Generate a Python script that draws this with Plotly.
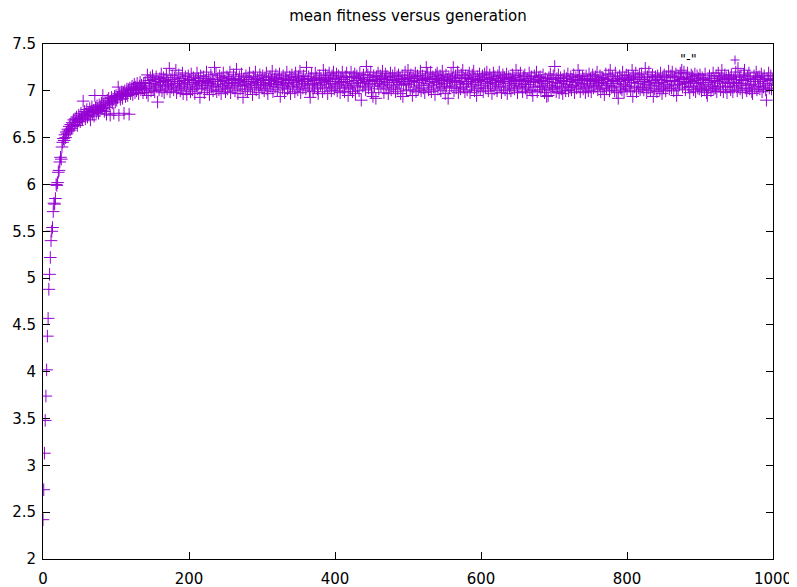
import plotly.graph_objects as go

title_text = "mean fitness versus generation"
key_label = '"-"'
x_ticks = [0, 200, 400, 600, 800, 1000]
y_ticks = [2, 2.5, 3, 3.5, 4, 4.5, 5, 5.5, 6, 6.5, 7, 7.5]
y_tick_text = ["2", "2.5", "3", "3.5", "4", "4.5", "5", "5.5", "6", "6.5", "7", "7.5"]

fitness = [
    2.42, 2.74, 3.13, 3.48, 3.74, 4.02, 4.38, 4.57, 4.88, 5.04, 5.22, 5.40, 5.50, 5.54, 5.71, 5.80, 5.79, 5.85, 6.00, 5.99,
    6.02, 6.13, 6.15, 6.24, 6.29, 6.27, 6.40, 6.45, 6.49, 6.47, 6.53, 6.50, 6.56, 6.54, 6.59, 6.57, 6.62, 6.58, 6.64, 6.60,
    6.66, 6.62, 6.69, 6.64, 6.70, 6.66, 6.72, 6.63, 6.68, 6.74, 6.70, 6.67, 6.76, 6.71, 6.69, 6.89, 6.73, 6.78, 6.70, 6.75,
    6.80, 6.72, 6.77, 6.74, 6.81, 6.69, 6.78, 6.83, 6.75, 6.79, 6.73, 6.95, 6.82, 6.77, 6.84, 6.80, 6.76, 6.85, 6.79, 6.83,
    6.87, 6.81, 6.95, 6.84, 6.78, 6.88, 6.82, 6.75, 6.90, 6.85, 6.92, 6.86, 6.74, 6.89, 6.93, 6.87, 6.91, 6.76, 6.94, 6.88,
    6.95, 6.90, 6.93, 7.04, 6.74, 6.97, 6.91, 6.96, 6.99, 6.92, 6.98, 6.76, 7.00, 6.94, 6.97, 7.02, 6.95, 7.01, 6.75, 7.03,
    6.97, 7.01, 7.05, 6.96, 7.03, 7.07, 6.98, 7.04, 7.00, 7.08, 7.02, 6.97, 7.05, 7.09, 7.01, 7.06, 7.03, 6.98, 7.08, 7.02,
    7.09, 7.03, 6.98, 7.17, 6.95, 7.11, 7.05, 7.14, 7.00, 7.08, 7.16, 7.02, 7.12, 6.99, 7.07, 7.15, 7.04, 6.88, 7.10, 7.01,
    7.13, 7.06, 7.18, 7.00, 7.09, 7.14, 6.98, 7.11, 7.05, 7.17, 7.02, 7.10, 7.07, 7.24, 6.99, 7.12, 7.04, 7.16, 7.08, 7.01,
    7.14, 7.06, 7.22, 6.98, 7.10, 7.03, 7.17, 7.08, 7.00, 7.13, 7.05, 7.19, 6.97, 7.11, 7.07, 7.15, 7.02, 6.96, 7.09, 7.16,
    7.04, 7.12, 6.99, 7.18, 7.07, 7.01, 7.14, 7.09, 6.97, 7.11, 7.05, 7.19, 7.02, 7.13, 7.08, 6.93, 7.16, 7.03, 7.10, 7.06,
    7.15, 6.98, 7.11, 7.06, 7.20, 7.02, 7.09, 7.13, 6.96, 7.08, 7.17, 7.04, 7.12, 7.00, 7.10, 7.25, 7.05, 7.18, 6.99, 7.12,
    7.07, 7.01, 7.16, 7.10, 6.97, 7.14, 7.05, 7.19, 7.03, 7.11, 6.99, 7.08, 7.15, 7.02, 7.13, 7.06, 7.20, 6.98, 7.09, 7.12,
    7.04, 7.17, 7.08, 7.00, 7.13, 7.23, 7.06, 6.97, 7.11, 7.15, 7.02, 7.09, 7.18, 7.05, 6.93, 7.12, 7.07, 7.01, 7.16, 7.10,
    6.99, 7.14, 7.06, 7.19, 7.03, 7.10, 7.08, 6.96, 7.15, 7.12, 7.04, 7.20, 7.01, 7.09, 7.13, 7.06, 6.98, 7.17, 7.07, 7.11,
    7.03, 7.16, 7.09, 7.00, 7.14, 7.06, 7.19, 7.02, 6.97, 7.12, 7.08, 7.15, 7.05, 7.11, 7.21, 6.99, 7.07, 7.13, 7.04, 7.17,
    7.10, 7.01, 7.14, 7.07, 7.18, 6.94, 7.09, 7.12, 7.03, 7.16, 7.06, 6.98, 7.13, 7.08, 7.20, 7.02, 7.11, 7.05, 7.15, 6.97,
    7.12, 7.17, 7.04, 7.09, 7.14, 6.99, 7.19, 7.07, 7.11, 7.01, 7.15, 7.05, 7.21, 6.98, 7.10, 7.13, 7.03, 7.16, 7.08, 7.12,
    7.02, 7.25, 7.10, 7.06, 7.15, 7.00, 6.93, 7.13, 7.18, 7.07, 6.99, 7.11, 7.04, 7.19, 7.08, 7.14, 7.02, 6.97, 7.12, 7.16,
    7.06, 7.13, 7.09, 6.99, 7.22, 7.11, 7.03, 7.17, 7.07, 7.14, 6.97, 7.10, 7.19, 7.04, 7.12, 7.00, 7.16, 7.08, 7.20, 7.02,
    7.13, 7.05, 7.18, 7.00, 7.10, 7.16, 7.07, 6.98, 7.14, 7.09, 7.20, 7.03, 7.12, 6.99, 7.15, 7.06, 7.19, 7.10, 6.95, 7.04,
    7.14, 7.02, 7.20, 7.08, 6.99, 7.15, 7.06, 7.18, 6.97, 7.11, 7.16, 7.04, 7.13, 7.00, 7.19, 7.09, 6.90, 7.14, 7.05, 7.17,
    7.08, 7.12, 7.01, 7.26, 7.10, 7.17, 7.03, 7.14, 7.07, 7.20, 6.98, 7.11, 6.94, 7.16, 7.05, 7.12, 6.92, 7.15, 7.08, 7.19,
    7.02, 7.10, 7.16, 7.05, 7.13, 7.21, 7.07, 6.98, 7.12, 7.18, 7.03, 7.15, 7.09, 6.97, 7.14, 7.06, 7.19, 7.01, 7.11, 7.16,
    7.04, 7.12, 7.19, 6.99, 7.09, 7.15, 7.02, 7.17, 7.07, 7.13, 6.97, 7.10, 7.16, 6.94, 7.06, 7.12, 7.20, 7.08, 7.00, 7.14,
    7.22, 7.07, 7.13, 7.01, 7.17, 7.10, 6.95, 7.15, 7.04, 7.11, 7.19, 6.99, 7.09, 7.16, 7.02, 7.13, 7.06, 7.21, 7.00, 7.11,
    7.16, 7.03, 7.12, 6.98, 7.14, 7.25, 7.08, 7.18, 7.01, 7.13, 7.06, 7.20, 6.99, 7.10, 7.15, 7.04, 7.12, 6.96, 7.17, 7.09,
    7.19, 7.02, 7.13, 7.07, 7.16, 7.00, 7.11, 7.21, 7.04, 7.14, 7.08, 6.97, 7.17, 7.05, 7.12, 6.92, 7.15, 7.03, 7.10, 7.18,
    7.05, 7.13, 7.25, 7.00, 7.11, 7.16, 7.03, 7.09, 7.20, 6.98, 7.14, 7.07, 7.02, 7.17, 7.10, 7.22, 7.04, 7.13, 6.99, 7.16,
    7.08, 7.01, 7.14, 7.10, 7.19, 6.98, 7.12, 7.05, 7.17, 7.07, 7.21, 7.00, 7.13, 7.09, 6.95, 7.15, 7.03, 7.11, 7.18, 7.02,
    7.12, 7.06, 7.16, 6.99, 7.10, 7.18, 7.03, 7.14, 7.20, 7.08, 7.00, 7.12, 7.17, 7.05, 7.13, 6.97, 7.09, 7.19, 7.02, 7.15,
    7.07, 7.11, 7.00, 7.16, 7.09, 7.20, 7.04, 7.13, 6.98, 7.10, 7.17, 7.05, 7.14, 7.01, 7.12, 7.18, 6.97, 7.08, 7.15, 7.03,
    7.13, 7.00, 7.10, 7.17, 7.06, 7.14, 7.02, 7.11, 7.22, 7.08, 6.98, 7.16, 7.04, 7.12, 7.19, 7.05, 7.10, 6.99, 7.15, 7.07,
    7.17, 7.03, 7.11, 6.98, 7.13, 7.07, 7.19, 7.01, 7.10, 7.15, 7.00, 6.95, 7.09, 7.16, 7.04, 7.12, 7.20, 6.99, 7.10, 7.14,
    7.05, 7.15, 7.01, 7.11, 7.04, 7.17, 7.08, 6.98, 7.13, 7.02, 6.94, 7.10, 6.95, 7.14, 7.06, 7.18, 7.01, 7.12, 7.04, 7.16,
    7.03, 7.26, 7.09, 6.99, 7.13, 7.05, 7.17, 6.98, 7.08, 7.14, 7.02, 7.11, 6.97, 7.10, 7.16, 7.04, 7.00, 7.13, 7.07, 7.18,
    7.00, 7.10, 7.04, 7.15, 7.01, 7.12, 7.06, 7.17, 6.98, 7.09, 7.14, 7.03, 7.11, 7.22, 7.05, 7.16, 6.99, 7.12, 7.07, 7.15,
    7.02, 7.13, 7.08, 6.98, 7.16, 7.04, 7.11, 7.00, 7.18, 7.06, 7.13, 6.99, 7.10, 7.17, 7.03, 7.12, 7.05, 7.15, 7.08, 7.20,
    7.01, 7.11, 7.06, 7.16, 6.99, 7.09, 7.14, 7.03, 7.13, 6.96, 7.08, 7.18, 7.02, 7.12, 7.06, 7.17, 7.00, 7.22, 7.10, 7.04,
    7.15, 7.05, 7.11, 7.00, 7.19, 7.08, 6.98, 7.13, 6.92, 7.10, 7.16, 7.03, 7.12, 7.01, 7.20, 7.07, 6.99, 7.14, 7.05, 7.17,
    7.02, 7.11, 7.16, 7.05, 7.13, 7.00, 7.09, 7.22, 6.94, 7.15, 7.04, 7.12, 7.19, 6.99, 7.08, 7.14, 7.03, 7.17, 7.01, 7.10,
    7.18, 7.04, 7.12, 7.01, 7.10, 7.24, 7.07, 6.98, 7.15, 7.03, 7.20, 7.09, 7.00, 7.14, 7.06, 7.17, 6.94, 7.11, 7.02, 7.15,
    7.08, 6.99, 7.16, 7.05, 7.12, 7.01, 7.19, 7.09, 6.97, 7.14, 7.03, 7.17, 7.07, 7.00, 7.15, 7.05, 7.11, 7.21, 7.02, 7.10,
    7.16, 7.03, 7.20, 7.11, 7.00, 7.14, 7.06, 7.18, 6.95, 7.10, 7.02, 7.15, 7.07, 7.19, 7.12, 7.22, 7.04, 7.13, 7.20, 7.08,
    7.01, 7.14, 7.09, 7.19, 7.04, 7.12, 6.98, 7.10, 7.17, 7.05, 7.15, 7.01, 7.11, 7.18, 6.99, 7.08, 7.16, 7.03, 7.13, 7.02,
    7.17, 7.09, 7.00, 7.14, 7.05, 7.12, 7.01, 7.18, 7.07, 6.98, 6.95, 7.11, 7.03, 7.16, 7.09, 7.00, 7.13, 7.05, 7.19, 7.02,
    7.11, 7.03, 7.16, 6.99, 7.10, 7.19, 7.05, 7.13, 7.01, 7.15, 7.22, 7.08, 6.99, 7.12, 7.17, 7.04, 7.14, 6.98, 7.09, 7.16,
    7.05, 7.13, 7.01, 7.17, 7.08, 6.99, 7.12, 7.04, 7.15, 7.20, 7.09, 7.00, 7.24, 7.06, 7.14, 7.02, 7.16, 7.08, 6.98, 7.11,
    7.17, 7.22, 7.03, 7.12, 7.00, 7.15, 7.06, 7.19, 7.02, 7.13, 7.07, 6.99, 6.97, 7.10, 7.16, 7.04, 7.12, 7.20, 7.01, 7.14,
    7.05, 7.15, 7.02, 7.10, 7.18, 6.99, 7.12, 7.04, 7.16, 7.08, 7.01, 6.90, 7.13, 7.06, 7.19, 7.03, 7.11, 7.16, 7.02, 7.12,
]
generation = list(range(len(fitness)))

color = "#9400D3"
font_family = "DejaVu Sans"

# page body has an 8px default margin; size the figure so the plot lands where the reference has it
BODY = 8
W, H = 797 - BODY, 587 - BODY
PL, PR, PT, PB = 43, 773, 44, 559          # target plot box in page pixels
L, T = PL - BODY, PT - BODY
R, B = (BODY + W) - PR, (BODY + H) - PB
pw, ph = PR - PL, PB - PT

fig = go.Figure()
fig.add_trace(go.Scatter(
    x=generation, y=fitness, mode="markers",
    marker=dict(symbol="cross-thin", size=9, color=color,
                line=dict(color=color, width=1)),
    showlegend=False, cliponaxis=True,
))

# key: label and sample point (gnuplot style, text then sample)
kx, ky = 735, 60
fig.add_annotation(x=(688 - PL) / pw, y=(PB - 59) / ph, xref="paper", yref="paper",
                   text=key_label, showarrow=False, font=dict(family=font_family, size=13, color="black"),
                   xanchor="center", yanchor="middle")
fig.add_shape(type="line", xref="paper", yref="paper",
              x0=(kx - 4.5 - PL) / pw, x1=(kx + 4.5 - PL) / pw,
              y0=(PB - ky) / ph, y1=(PB - ky) / ph,
              line=dict(color=color, width=1))
fig.add_shape(type="line", xref="paper", yref="paper",
              x0=(kx - PL) / pw, x1=(kx - PL) / pw,
              y0=(PB - ky - 4.5) / ph, y1=(PB - ky + 4.5) / ph,
              line=dict(color=color, width=1))

axis_common = dict(showline=True, linecolor="black", linewidth=1, mirror="ticks",
                   ticks="inside", ticklen=7, tickwidth=1, tickcolor="black",
                   showgrid=False, zeroline=False, automargin=False,
                   tickfont=dict(family=font_family, size=15, color="black"))

fig.update_layout(
    width=W, height=H,
    margin=dict(l=L, r=R, t=T, b=B, pad=0),
    paper_bgcolor="white", plot_bgcolor="white",
    title=dict(text=title_text, x=(PL + pw / 2 - BODY) / W, xanchor="center",
               y=1 - (16 - BODY) / H, yanchor="middle",
               yref="container", automargin=False,
               font=dict(family=font_family, size=15, color="black")),
    xaxis=dict(range=[0, 1000], tickvals=x_ticks, ticklabelstandoff=6, **axis_common),
    yaxis=dict(range=[2, 7.5], tickvals=y_ticks, ticktext=y_tick_text, ticklabelstandoff=3, **axis_common),
)

fig.write_html("out.html")
